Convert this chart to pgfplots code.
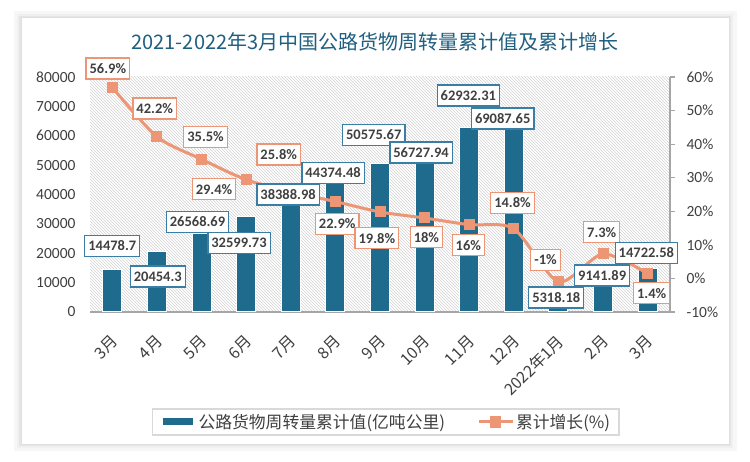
\documentclass[border=0pt]{standalone}
\usepackage{pgfplots}
\pgfplotsset{compat=1.18}
\usepackage{fontspec}
\setmainfont{Carlito}
\newfontfamily\cjk{Noto Sans CJK SC}
\usetikzlibrary{patterns}
\definecolor{barblue}{RGB}{31,107,141}
\definecolor{barbox}{RGB}{58,125,165}
\definecolor{lineor}{RGB}{236,150,118}
\definecolor{titleblue}{RGB}{31,95,127}
\definecolor{txt}{RGB}{64,64,64}
\definecolor{hatch}{RGB}{210,210,210}
\definecolor{axgray}{RGB}{166,166,166}
\begin{document}
\begin{tikzpicture}[x=1pt,y=1pt]
\useasboundingbox (0,0) rectangle (750,461);
\fill[white] (0,0) rectangle (750,461);
\fill[black!3] (14,10) rectangle (737,450);
\fill[black!6] (17,13) rectangle (733,447);
\fill[black!10] (19,15) rectangle (731,445);
\fill[white] (21,17) rectangle (729,444);
\draw[black!12, line width=0.8] (21,17) rectangle (729,444);
\node[text=titleblue, font=\cjk\fontsize{20}{24}\selectfont] at (375,419) {2021-2022年3月中国公路货物周转量累计值及累计增长};

% ---- axis A: bars (left scale)
\begin{axis}[
  at={(90pt,149pt)}, anchor=south west, scale only axis, width=580pt, height=235pt,
  xmin=-0.5, xmax=12.5, ymin=0, ymax=80000,
  axis background/.style={pattern=north west lines, pattern color=hatch},
  axis x line*=bottom, axis y line*=left,
  x axis line style={draw=axgray, line width=1.6pt, -},
  y axis line style={draw=none},
  xtick={0,...,12},
  xticklabels={3月,4月,5月,6月,7月,8月,9月,10月,11月,12月,2022年1月,2月,3月},
  xticklabel style={font=\cjk\fontsize{16}{19}\selectfont, text=txt, anchor=east, xshift=5pt, yshift=-24pt, rotate=45},
  ytick={0,10000,...,80000},
  scaled y ticks=false,
  /pgf/number format/assume math mode=true,
  yticklabel style={/pgf/number format/fixed, /pgf/number format/1000 sep={}, font=\fontsize{15.5}{18}\selectfont, text=txt, xshift=-11pt},
  major tick length=0pt,
  tick style={draw=none},
]
\addplot[ybar, bar width=19pt, fill=barblue, draw=white, line width=1pt] coordinates {
(0,14478.7) (1,20454.3) (2,26568.69) (3,32599.73) (4,38388.98) (5,44374.48) (6,50575.67)
(7,56727.94) (8,62932.31) (9,69087.65) (10,5318.18) (11,9141.89) (12,14722.58)};
\end{axis}

% ---- axis B: line (right scale)
\begin{axis}[
  at={(90pt,149pt)}, anchor=south west, scale only axis, width=580pt, height=235pt,
  xmin=-0.5, xmax=12.5, ymin=-10, ymax=60,
  axis y line*=right, axis x line=none,
  y axis line style={draw=axgray, line width=1.2pt, -},
  ytick={-10,0,...,60},
  /pgf/number format/assume math mode=true,
  yticklabel={\pgfmathprintnumber{\tick}\%},
  yticklabel style={font=\fontsize{15.5}{18}\selectfont, text=txt, xshift=8pt},
  tick align=outside, major tick length=5pt,
  ytick style={draw=axgray, line width=1.2pt},
  clip=false,
]
\addplot[lineor, line width=3pt, smooth, tension=0.45, mark=square*, mark size=5pt,
  mark options={fill=lineor, draw=lineor, line width=0pt}] coordinates {
(0,56.9) (1,42.2) (2,35.5) (3,29.4) (4,25.8) (5,22.9) (6,19.8) (7,18) (8,16) (9,14.8)
(10,-1) (11,7.3) (12,1.4)};
\addplot[forget plot, only marks, mark=none, nodes near coords={\pgfplotspointmeta\%}, point meta=explicit symbolic,
  nodes near coords align=center,
  every node near coord/.append style={font=\bfseries\fontsize{14.5}{17}\selectfont, text=txt, fill=white, draw=lineor, line width=1.3pt, inner xsep=3.5pt, inner ysep=0pt, minimum height=21pt, anchor=center}]
table[meta=l] {
x y l
-0.1 62.5 56.9
0.95 50.66 42.2
2.09 42.2 35.5
2.28 26.6 29.4
3.73 36.9 25.8
5.04 16.25 22.9
5.93 11.95 19.8
7.04 12.25 18
7.98 9.87 16
8.97 22.48 14.8
9.71 5.57 -1
10.97 13.73 7.3
12.09 -4.36 1.4
};
\end{axis}

% ---- axis C: bar labels and legend
\begin{axis}[
  at={(90pt,149pt)}, anchor=south west, scale only axis, width=580pt, height=235pt,
  xmin=-0.5, xmax=12.5, ymin=0, ymax=80000, hide axis, clip=false,
  legend style={at={(0.510,-0.468)}, anchor=center, draw=black!15, line width=1.5pt, fill=white,
    font=\cjk\fontsize{16.8}{20}\selectfont, text=txt, legend columns=2,
    inner xsep=7pt, inner ysep=3pt,
    /tikz/every even column/.append style={column sep=30pt}},
]
\addlegendimage{legend image code/.code={\draw[barblue, line width=7pt] (0pt,0pt) -- (30pt,0pt);}}
\addlegendimage{legend image code/.code={\draw[lineor, line width=3pt] (0pt,0pt) -- (34pt,0pt); \fill[lineor] (12pt,-5pt) rectangle (22pt,5pt);}}
\addplot[forget plot, only marks, mark=none, nodes near coords, point meta=explicit symbolic,
  nodes near coords align=center,
  every node near coord/.append style={font=\bfseries\fontsize{14.5}{17}\selectfont, text=txt, fill=white, draw=barbox, line width=1.3pt, inner xsep=3.5pt, inner ysep=0pt, minimum height=21pt, anchor=center}]
table[meta=l] {
x y l
0 22466 14478.7
1.02 12084 20454.3
1.91 30636 26568.69
2.84 23488 32599.73
3.94 39997 38388.98
4.95 47316 44374.48
5.86 60251 50575.67
6.92 54294 56727.94
7.98 73697 62932.31
8.75 65867 69087.65
9.95 4936 5318.18
10.98 12425 9141.89
11.97 20084 14722.58
};
\legend{公路货物周转量累计值(亿吨公里),累计增长(\%)}
\end{axis}
\end{tikzpicture}
\end{document}
